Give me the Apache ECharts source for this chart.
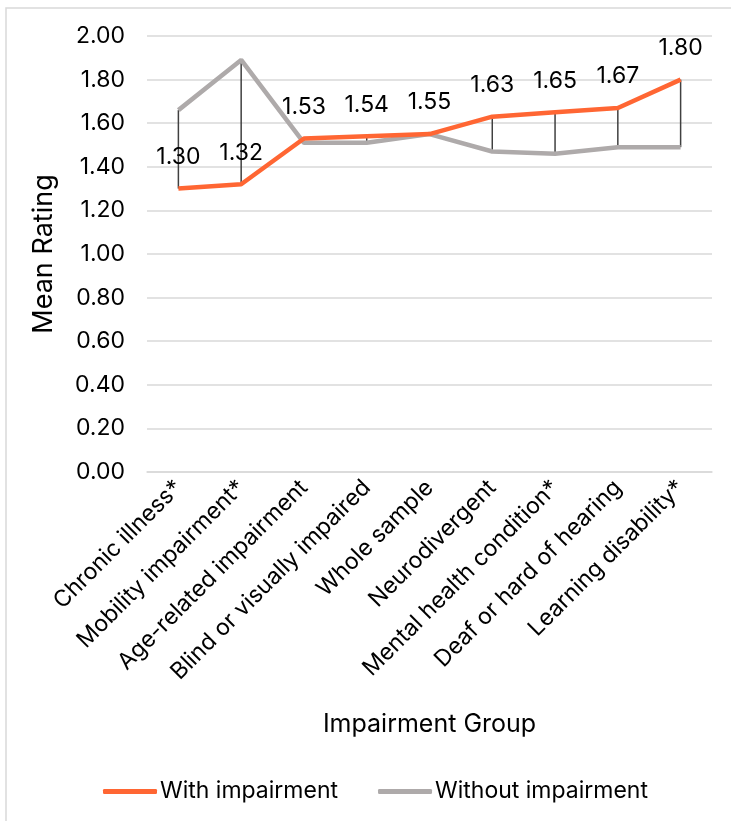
<!DOCTYPE html>
<html><head><meta charset="utf-8">
<script src="https://cdn.jsdelivr.net/npm/echarts@6/dist/echarts.min.js"></script>
<style>html,body{margin:0;padding:0;background:#fff}#c{width:731px;height:821px}</style>
</head><body><div id="c"></div>
<script>
const categories = ["Chronic illness*","Mobility impairment*","Age-related impairment","Blind or visually impaired","Whole sample","Neurodivergent","Mental health condition*","Deaf or hard of hearing","Learning disability*"];
const withImpairment = [1.30,1.32,1.53,1.54,1.55,1.63,1.65,1.67,1.80];
const withoutImpairment = [1.66,1.89,1.51,1.51,1.55,1.47,1.46,1.49,1.49];
const yTicks = {min:0, max:2, interval:0.2};
const FONT = "Inter, Liberation Sans, Arial, sans-serif";

const chart = echarts.init(document.getElementById('c'), null, {renderer:'canvas'});
const dropData = categories.map((c,i)=>[i, withImpairment[i], withoutImpairment[i]]);
chart.setOption({
  animation:false,
  textStyle:{fontFamily:FONT},
  graphic:[{type:'rect', shape:{x:6,y:8,width:900,height:900}, style:{fill:'none', stroke:'#d9d9d9', lineWidth:1.5}, silent:true, z:-10}],
  grid:{left:147, right:19, top:36, bottom:349, containLabel:false},
  legend:{
    top:775, left:98, itemWidth:54, itemHeight:5, itemGap:40,
    textStyle:{fontSize:23, color:'#000', fontFamily:FONT, padding:[0,0,0,-2]},
    data:[{name:'With impairment', icon:'roundRect'},{name:'Without impairment', icon:'roundRect'}]
  },
  xAxis:{
    type:'category', data:categories, boundaryGap:true,
    axisLine:{lineStyle:{color:'#d9d9d9', width:1.5}}, axisTick:{show:false},
    axisLabel:{rotate:45, fontSize:23, color:'#000', margin:12, interval:0, fontFamily:FONT},
    name:'Impairment Group', nameLocation:'middle', nameGap:240,
    nameTextStyle:{fontSize:25, color:'#000', fontFamily:FONT}
  },
  yAxis:{
    type:'value', min:yTicks.min, max:yTicks.max, interval:yTicks.interval,
    axisLine:{show:false}, axisTick:{show:false},
    splitLine:{lineStyle:{color:'#d9d9d9', width:1.5}},
    axisLabel:{formatter:v=>v.toFixed(2), fontSize:23, color:'#000', margin:22, fontFamily:FONT},
    name:'Mean Rating', nameLocation:'middle', nameGap:90,
    nameTextStyle:{fontSize:27, color:'#000', fontFamily:FONT}
  },
  series:[
    {type:'custom', name:'drop', data:dropData, z:1, silent:true,
     renderItem:(params, api)=>{
       const a = api.coord([api.value(0), api.value(1)]);
       const b = api.coord([api.value(0), api.value(2)]);
       return {type:'line', shape:{x1:a[0],y1:a[1],x2:b[0],y2:b[1]}, style:{stroke:'#404040', lineWidth:1.5}};
     }},
    {type:'line', name:'Without impairment', data:withoutImpairment, symbol:'none', z:2,
     lineStyle:{color:'#AEAAAA', width:4.5}, itemStyle:{color:'#AEAAAA'}},
    {type:'line', name:'With impairment', data:withImpairment, symbol:'circle', symbolSize:0.1, showSymbol:true, z:3,
     lineStyle:{color:'#FF6633', width:4.5}, itemStyle:{color:'#FF6633'},
     label:{show:true, position:'top', distance:20, fontSize:23, color:'#000', fontFamily:FONT, formatter:p=>p.value.toFixed(2)},
     labelLayout:{hideOverlap:false}}
  ]
});
</script></body></html>
